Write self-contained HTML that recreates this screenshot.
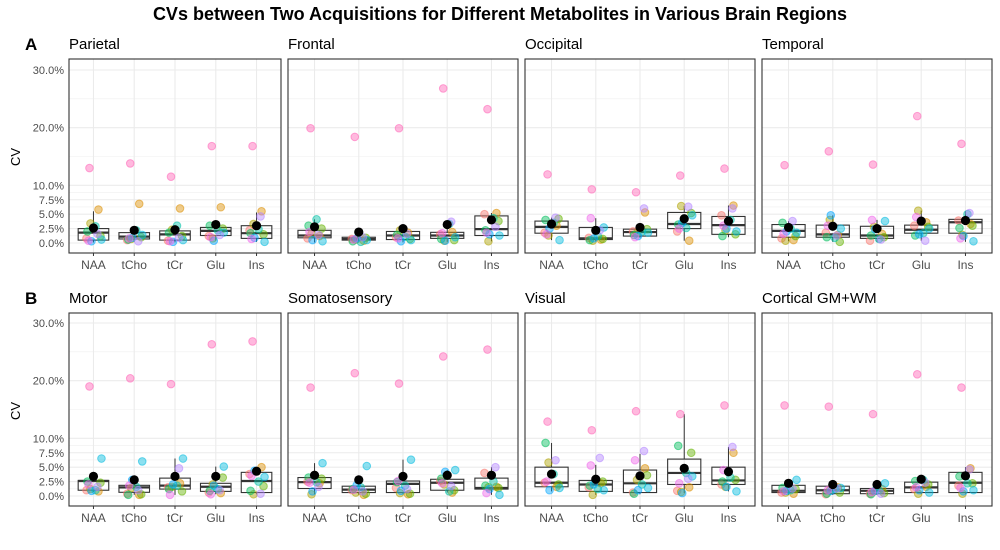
<!DOCTYPE html>
<html><head><meta charset="utf-8"><style>
html,body{margin:0;padding:0;background:#fff;}
svg{display:block;font-family:"Liberation Sans",Arial,sans-serif;}
</style></head><body>
<svg id="chart" width="1000" height="550" viewBox="0 0 1000 550" xmlns="http://www.w3.org/2000/svg">
<text x="500" y="20" text-anchor="middle" font-size="18" font-weight="bold">CVs between Two Acquisitions for Different Metabolites in Various Brain Regions</text>
<text x="25" y="50" font-size="17" font-weight="bold">A</text>
<text x="25" y="304" font-size="17" font-weight="bold">B</text>
<text transform="translate(20,157) rotate(-90)" text-anchor="middle" font-size="13">CV</text>
<text transform="translate(20,411) rotate(-90)" text-anchor="middle" font-size="13">CV</text>
</svg>
<script>
const categories = ["NAA","tCho","tCr","Glu","Ins"];
const regions = ["Parietal","Frontal","Occipital","Temporal","Motor","Somatosensory","Visual","Cortical GM+WM"];
const tickValues = [0,2.5,5,7.5,10,20,30];
const tickLabels = ["0.0%","2.5%","5.0%","7.5%","10.0%","20.0%","30.0%"];
const minorValues = [1.25,3.75,6.25,8.75,15,25];
const subjectColors = ["#F8766D","#DB8E00","#AEA200","#64B200","#00BD5C","#00C1A7","#00BADE","#00A6FF","#B385FF","#EF67EB","#FF63B6"];
// per region, per metabolite: quartiles, whiskers, mean
const q1 = [[.5,.7,.5,1.3,.8],[.9,.5,.6,.8,1.3],[1.7,.6,1.2,2.5,1.5],[1.0,1.0,.8,1.7,1.7],[1.0,.64,1.2,.8,.6],[1.3,.6,.6,1.0,1.2],[1.6,.8,.6,2.0,2.0],[.6,.4,.4,.6,.6]];
const med = [[1.8,1.1,1.5,2.1,1.7],[1.3,.7,1.3,1.3,2.4],[2.8,.8,1.9,3.3,3.1],[2.1,1.5,1.3,2.3,3.6],[2.6,1.5,1.8,1.6,2.6],[2.4,1.1,2.1,2.3,1.4],[2.3,2.0,2.2,4.0,2.7],[.9,1.0,.9,1.5,2.3]];
const q3 = [[2.5,1.8,2.1,2.7,3.0],[2.2,1.0,2.0,1.85,4.7],[3.8,2.7,2.4,5.3,4.6],[3.2,3.1,2.9,3.1,4.1],[2.7,1.85,3.1,2.2,4.1],[3.2,1.7,2.6,2.9,3.1],[5.0,2.7,4.5,6.4,5.0],[1.85,1.7,1.3,2.4,4.1]];
const whiskHi = [[5.5,2.5,3.0,3.3,5.3],[4.1,1.2,2.5,3.0,5.2],[4.4,4.3,3.0,6.4,6.5],[3.8,4.8,4.0,5.6,5.5],[2.8,2.5,6.5,5.1,5.0],[5.7,2.4,6.3,4.5,5.0],[9.2,5.4,7.3,14.2,8.5],[2.8,2.5,2.2,3.0,5.0]];
const whiskLo = [[.1,.2,.1,.4,.2],[.1,.1,.1,.2,.3],[.5,.3,.9,.4,1.0],[.3,.2,.2,.4,.2],[.7,.2,.2,.3,.3],[.3,.2,.3,.6,.2],[.8,.2,.3,.5,.8],[.2,.2,.2,.3,.4]];
const means = [[2.6,2.2,2.3,3.2,3.0],[2.8,1.9,2.5,3.2,4.0],[3.3,2.2,2.7,4.2,3.8],[2.7,2.9,2.5,3.8,3.9],[3.4,2.8,3.4,3.4,4.3],[3.6,2.8,3.4,3.6,3.6],[3.8,2.9,3.5,4.8,4.2],[2.2,2.0,2.0,2.9,3.5]];
// individual subject CVs (11 subjects) per region per metabolite
const points = [
 [[0.8,5.8,3.4,1.2,2.0,2.9,0.6,0.3,1.6,0.4,13.0],[0.5,6.8,0.7,1.0,0.6,2.2,1.4,0.9,0.3,0.8,13.8],[0.4,6.0,2.3,1.2,1.8,3.0,0.5,0.2,0.9,0.3,11.5],[1.2,6.2,0.8,2.5,3.0,2.2,1.8,0.4,1.4,1.0,16.8],[2.2,5.5,3.3,1.5,1.7,2.4,0.2,0.9,4.6,0.7,16.8]],
 [[0.8,1.2,1.6,2.5,3.0,4.1,0.3,0.5,1.4,1.9,19.9],[0.7,0.4,0.6,0.9,0.3,0.2,0.5,0.8,1.0,0.6,18.4],[1.0,1.8,2.2,0.7,1.4,1.1,0.5,0.3,1.6,0.8,19.9],[1.5,1.9,0.4,0.5,0.7,3.3,1.0,0.4,3.7,1.7,26.8],[5.0,5.2,0.3,3.8,2.2,4.3,1.3,1.5,2.8,1.8,23.2]],
 [[1.8,3.0,1.3,4.2,4.0,3.5,0.5,2.5,4.4,1.5,11.9],[0.9,0.6,0.4,0.7,0.5,1.2,2.7,0.8,2.2,4.3,9.3],[2.0,5.3,1.7,2.4,1.4,2.0,1.8,1.2,6.0,1.0,8.8],[2.0,0.4,6.4,5.2,3.2,2.6,4.8,3.5,6.3,2.5,11.7],[4.8,6.5,2.2,1.5,1.2,4.0,2.0,2.5,6.0,3.0,12.9]],
 [[0.8,0.5,0.4,1.2,3.5,2.5,1.8,2.0,3.8,1.6,13.5],[1.8,1.4,4.0,0.2,1.0,0.9,2.5,4.8,1.3,3.0,15.9],[0.4,1.6,2.8,1.0,1.3,0.7,3.8,2.4,0.6,4.0,13.6],[3.0,3.6,5.6,2.8,1.3,1.7,2.5,1.5,0.4,4.5,22.0],[3.9,3.3,1.4,3.0,2.6,5.0,0.3,1.2,5.2,0.8,17.2]],
 [[1.0,0.8,1.2,2.3,2.5,1.0,6.5,0.9,1.6,2.0,19.0],[0.4,0.2,1.4,0.3,0.2,1.6,6.0,2.8,1.0,1.8,20.4],[1.5,2.2,1.6,0.8,1.2,1.8,6.5,2.0,4.8,0.2,19.4],[0.6,0.5,2.0,3.2,0.9,1.2,5.1,1.8,1.0,0.3,26.3],[3.8,5.0,0.3,1.7,0.9,2.5,3.3,4.4,0.4,3.5,26.8]],
 [[2.5,2.2,0.3,3.0,3.2,2.4,5.7,0.8,1.6,2.3,18.8],[1.0,0.2,0.6,0.4,1.2,1.5,5.2,1.9,0.8,1.1,21.3],[1.4,0.3,0.5,0.4,2.4,1.8,6.3,0.9,1.2,2.6,19.5],[2.6,0.6,2.0,1.0,3.0,0.8,4.5,4.2,1.7,2.2,24.2],[4.0,1.6,1.5,1.4,1.8,2.5,0.2,1.2,5.0,0.5,25.4]],
 [[2.3,1.6,5.8,2.0,9.2,3.8,1.4,1.0,6.2,2.5,12.9],[1.5,2.2,0.2,2.5,1.8,1.2,1.0,2.0,6.6,5.3,11.4],[0.6,4.8,2.8,3.6,0.4,2.0,1.4,1.0,7.8,6.2,14.7],[0.9,1.5,0.7,7.5,8.7,4.0,3.4,0.5,3.0,2.2,14.2],[2.0,7.5,1.6,2.8,2.5,3.2,0.8,1.6,8.5,4.5,15.7]],
 [[0.6,0.4,0.6,1.2,1.4,1.0,2.8,0.9,1.3,0.8,15.7],[0.3,1.5,1.0,0.6,0.4,1.2,1.4,0.9,1.3,1.0,15.5],[0.4,1.2,0.8,0.5,0.3,1.0,2.2,0.9,0.4,0.7,14.2],[1.2,1.6,0.4,2.0,2.6,2.8,0.6,1.0,2.3,1.5,21.1],[1.8,4.8,0.4,2.2,3.4,2.2,1.0,0.8,4.6,1.4,18.8]]
];
// layout (style, not data)
const panelX = [[69,281],[288,518],[525,755],[762,992]];
const rowTop = [59,313], rowBottom = [253,506], rowZero = [243,496];
const jitter = [-7,5,-3,7,-6,2,8,-2,4,-5,-4];
const NS = "http://www.w3.org/2000/svg";
const svg = document.getElementById("chart");
function mk(tag, attrs, parent){ const e=document.createElementNS(NS,tag); for(const k in attrs) e.setAttribute(k,attrs[k]); (parent||svg).appendChild(e); return e; }
const pxPerPct = 173/30;
regions.forEach((reg, r) => {
  const row = Math.floor(r/4), col = r%4;
  const x0 = panelX[col][0], x1 = panelX[col][1];
  const top = rowTop[row], bot = rowBottom[row], zero = rowZero[row];
  const yS = v => zero - v*pxPerPct;
  const step = (x1-x0)/5.2;
  const xS = i => x0 + step*(0.6 + i);
  const g = mk("g", {});
  
  
  mk("rect",{x:x0,y:top,width:x1-x0,height:bot-top,fill:"#fff"},g);
  minorValues.forEach(v=>{ mk("line",{x1:x0,x2:x1,y1:yS(v),y2:yS(v),stroke:"#efefef","stroke-width":0.6},g); });
  tickValues.forEach((v,k)=>{
    mk("line",{x1:x0,x2:x1,y1:yS(v),y2:yS(v),stroke:"#ebebeb","stroke-width":1.1},g);
    if(col===0){
      const t = mk("text",{x:x0-5,y:yS(v)+4,"text-anchor":"end","font-size":11,fill:"#4d4d4d"},g);
      t.textContent = tickLabels[k];
      
      
    }
  });
  categories.forEach((c,i)=>{
    mk("line",{x1:xS(i),x2:xS(i),y1:top,y2:bot,stroke:"#ebebeb","stroke-width":1.1},g);
    mk("line",{x1:xS(i),x2:xS(i),y1:bot,y2:bot+3,stroke:"#333","stroke-width":1},g);
    const t = mk("text",{x:xS(i),y:bot+16,"text-anchor":"middle","font-size":12,fill:"#4d4d4d"},g);
    t.textContent = c;
    
    
  });
  const title = mk("text",{x:x0,y:top-10,"font-size":15,fill:"#000"},g);
  title.textContent = reg;
  
  
  categories.forEach((c,i)=>{
    const cx = xS(i), bw = step*0.75;
    const bg = mk("g",{},g);
    
    
    mk("line",{x1:cx,x2:cx,y1:yS(q3[r][i]),y2:yS(whiskHi[r][i]),stroke:"#333","stroke-width":1},bg);
    mk("line",{x1:cx,x2:cx,y1:yS(q1[r][i]),y2:yS(whiskLo[r][i]),stroke:"#333","stroke-width":1},bg);
    mk("rect",{x:cx-bw/2,y:yS(q3[r][i]),width:bw,height:Math.max(0.5,yS(q1[r][i])-yS(q3[r][i])),fill:"none",stroke:"#333","stroke-width":1.1},bg);
    mk("line",{x1:cx-bw/2,x2:cx+bw/2,y1:yS(med[r][i]),y2:yS(med[r][i]),stroke:"#333","stroke-width":2.2},bg);
    points[r][i].forEach((v,s)=>{
      const p = mk("circle",{cx:cx+jitter[s],cy:yS(v),r:3.8,fill:subjectColors[s],"fill-opacity":0.45,stroke:subjectColors[s],"stroke-opacity":0.55,"stroke-width":1},bg);
      
      
    });
    const m = mk("circle",{cx:cx,cy:yS(means[r][i]),r:4.6,fill:"#000"},bg);
    
    
  });
  mk("rect",{x:x0,y:top,width:x1-x0,height:bot-top,fill:"none",stroke:"#333","stroke-width":1.1},g);
});
</script>
</body></html>
